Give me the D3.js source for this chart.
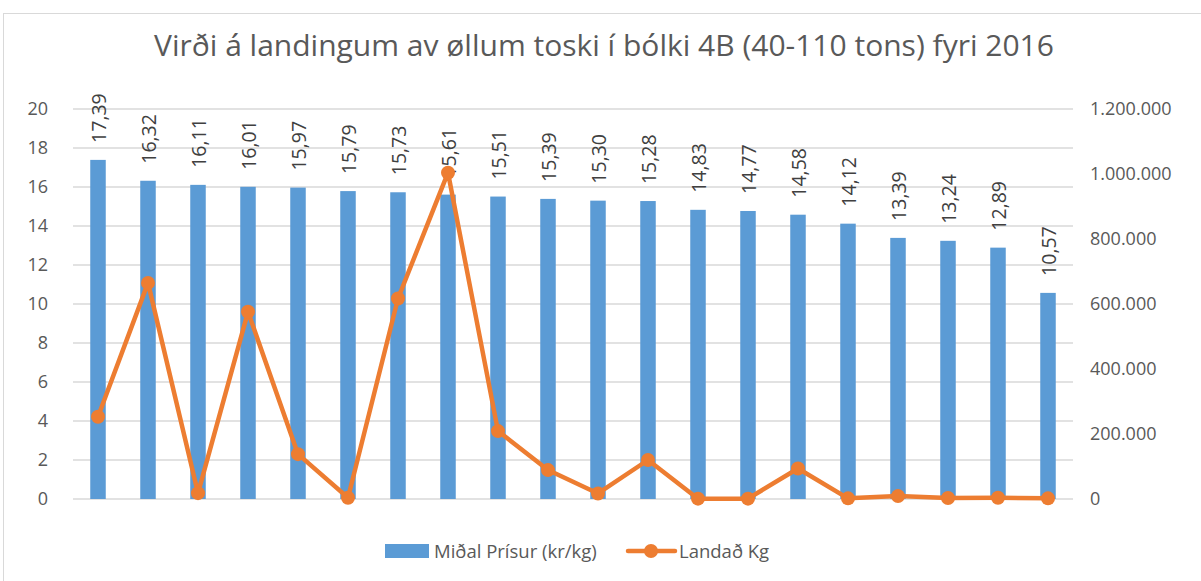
<!DOCTYPE html>
<html lang="en">
    <head>
        <meta charset="utf-8">
        <title>Virði á landingum</title>
        <script type="text/javascript" src="https://cdn.jsdelivr.net/npm/d3@7"></script>
        <style>
            body { margin: 0; background: #fff; }
            text { font-family: "Open Sans", "Noto Sans", sans-serif; }
        </style>
    </head>
    <body>
        <script type="text/javascript">
            // data
            var categories = d3.range(1, 21).map(String);
            var prices = [17.39, 16.32, 16.11, 16.01, 15.97, 15.79, 15.73, 15.61, 15.51, 15.39,
                          15.30, 15.28, 14.83, 14.77, 14.58, 14.12, 13.39, 13.24, 12.89, 10.57];
            var landed = [253000, 665000, 18000, 576000, 138000, 4000, 617000, 1004000, 209000, 89000,
                          17000, 120000, 1000, 1000, 94000, 2000, 9000, 3000, 4000, 2000];
            var leftTicks = [0, 2, 4, 6, 8, 10, 12, 14, 16, 18, 20];
            var rightTicks = [0, 200000, 400000, 600000, 800000, 1000000, 1200000];
            var title = "Virði á landingum av øllum toski í bólki 4B (40-110 tons) fyri 2016";
            var seriesNames = ["Miðal Prísur (kr/kg)", "Landað Kg"];

            var w = 1201, h = 581;
            // plot box
            var pLeft = 73, pRight = 1073, pTop = 109, pBottom = 499;
            var blue = "#5B9BD5", orange = "#ED7D31", grid = "#d9d9d9", txt = "#595959";

            var svg = d3.select("body").append("svg")
                        .attr("width", w)
                        .attr("height", h);

            // outer border
            svg.append("rect")
               .attr("x", 3.5).attr("y", 13.5)
               .attr("width", 1200).attr("height", 570)
               .attr("fill", "none")
               .attr("stroke", grid);

            svg.append("text")
               .text(title)
               .attr("x", 604).attr("y", 56)
               .attr("text-anchor", "middle")
               .attr("font-size", "30px")
               .attr("fill", txt);

            var x = d3.scaleBand().domain(categories).range([pLeft, pRight]).paddingInner(0.69).paddingOuter(0.345);
            var yL = d3.scaleLinear().domain([0, 20]).range([pBottom, pTop]);
            var yR = d3.scaleLinear().domain([0, 1200000]).range([pBottom, pTop]);

            // gridlines
            svg.append("g")
               .selectAll("line")
               .data(leftTicks)
               .enter()
               .append("line")
               .attr("x1", pLeft).attr("x2", pRight)
               .attr("y1", function(d) { return yL(d); })
               .attr("y2", function(d) { return yL(d); })
               .attr("stroke", grid)
               .attr("stroke-width", 1.5);

            // left axis
            var axL = svg.append("g")
               .attr("transform", "translate(" + (pLeft - 25) + ",0)")
               .call(d3.axisLeft(yL).tickValues(leftTicks).tickSize(0).tickPadding(0));
            axL.select(".domain").remove();
            axL.selectAll("text").attr("font-size", "18px").attr("fill", txt)
               .attr("font-family", "'Open Sans', sans-serif");

            // right axis
            var fmt = function(d) { return d3.format(",")(d).replace(/,/g, "."); };
            var axR = svg.append("g")
               .attr("transform", "translate(" + (pRight + 17) + ",0)")
               .call(d3.axisRight(yR).tickValues(rightTicks).tickSize(0).tickPadding(0).tickFormat(fmt));
            axR.select(".domain").remove();
            axR.selectAll("text").attr("font-size", "18px").attr("fill", txt)
               .attr("font-family", "'Open Sans', sans-serif");

            // bars
            svg.selectAll("rect.bar")
               .data(prices)
               .enter()
               .append("rect")
               .attr("class", "bar")
               .attr("x", function(d, i) { return x(categories[i]); })
               .attr("y", function(d) { return yL(d); })
               .attr("width", x.bandwidth())
               .attr("height", function(d) { return pBottom - yL(d); })
               .attr("fill", blue);

            // bar labels (rotated), sitting a bit above each bar
            svg.selectAll("text.lbl")
               .data(prices)
               .enter()
               .append("text")
               .attr("class", "lbl")
               .text(function(d) { return d.toFixed(2).replace(".", ","); })
               .attr("transform", function(d, i) {
                   var cx = x(categories[i]) + x.bandwidth() / 2 + 8;
                   return "translate(" + cx + "," + (yL(d) - 17) + ") rotate(-90)";
               })
               .attr("font-size", "19.5px")
               .attr("fill", "#404040");

            // line
            var line = d3.line()
                .x(function(d, i) { return x(categories[i]) + x.bandwidth() / 2; })
                .y(function(d) { return yR(d); });
            svg.append("path")
               .datum(landed)
               .attr("d", line)
               .attr("fill", "none")
               .attr("stroke", orange)
               .attr("stroke-width", 4.5)
               .attr("stroke-linejoin", "round");
            svg.selectAll("circle.pt")
               .data(landed)
               .enter()
               .append("circle")
               .attr("class", "pt")
               .attr("cx", function(d, i) { return x(categories[i]) + x.bandwidth() / 2; })
               .attr("cy", function(d) { return yR(d); })
               .attr("r", 7)
               .attr("fill", orange);

            // legend
            var lg = svg.append("g");
            lg.append("rect")
              .attr("x", 385).attr("y", 544)
              .attr("width", 44).attr("height", 14)
              .attr("fill", blue);
            lg.append("text")
              .text(seriesNames[0])
              .attr("x", 434).attr("y", 558)
              .attr("font-size", "18.5px")
              .attr("fill", txt);
            lg.append("line")
              .attr("x1", 628).attr("x2", 675)
              .attr("y1", 551).attr("y2", 551)
              .attr("stroke", orange)
              .attr("stroke-width", 4.5)
              .attr("stroke-linecap", "round");
            lg.append("circle")
              .attr("cx", 651).attr("cy", 551).attr("r", 7)
              .attr("fill", orange);
            lg.append("text")
              .text(seriesNames[1])
              .attr("x", 679).attr("y", 558)
              .attr("font-size", "18.5px")
              .attr("fill", txt);
        </script>
    </body>
</html>
